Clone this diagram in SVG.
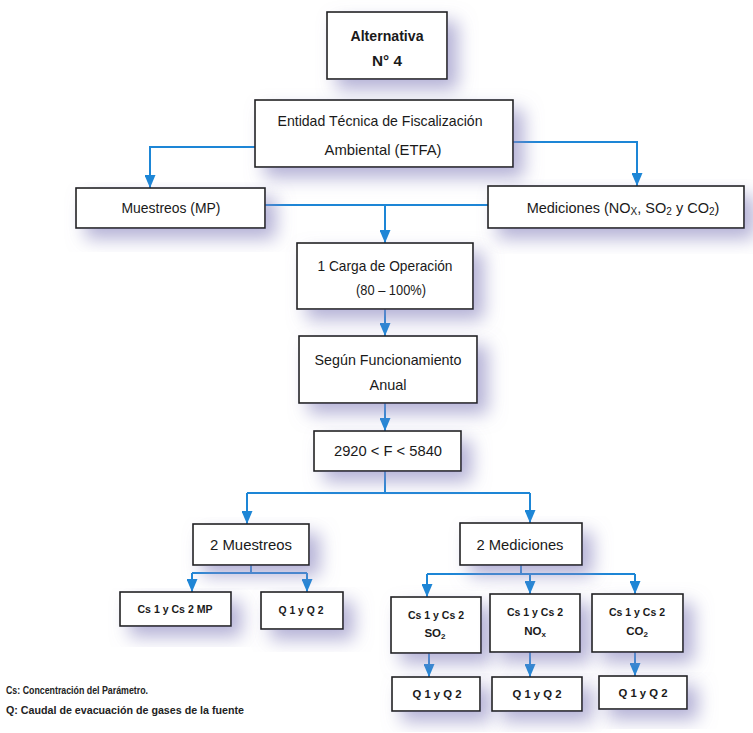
<svg xmlns="http://www.w3.org/2000/svg" width="753" height="733" viewBox="0 0 753 733">
<defs>
<filter id="sh" x="-30%" y="-40%" width="170%" height="200%">
<feGaussianBlur in="SourceAlpha" stdDeviation="9"/>
<feOffset dx="10" dy="10" result="b"/>
<feFlood flood-color="#8c88c0" flood-opacity="0.65"/>
<feComposite in2="b" operator="in"/>
<feMerge><feMergeNode/><feMergeNode in="SourceGraphic"/></feMerge>
</filter>
<marker id="ah" markerUnits="userSpaceOnUse" markerWidth="13" markerHeight="11" refX="13" refY="5.5" orient="auto" viewBox="0 0 13 11">
<path d="M0,0 L13,5.5 L0,11 Z" fill="#1d86d6"/>
</marker>
</defs>
<style>
.box rect{fill:#fff;stroke:#222;stroke-width:1.6;filter:url(#sh)}
.t{font-family:"Liberation Sans",Arial,sans-serif;font-size:14.5px;fill:#1a1a1a;text-anchor:middle}
.b{font-weight:bold}
.s{font-size:11.5px;font-weight:bold}
.sub{font-size:10px;baseline-shift:-2px}
.sub2{font-size:8px;baseline-shift:-2px}
.c path{fill:none;stroke:#1d86d6;stroke-width:2}
.a{marker-end:url(#ah)}
.leg{font-family:"Liberation Sans",Arial,sans-serif;font-size:11px;font-weight:bold;fill:#222}
</style>
<rect width="753" height="733" fill="#fff"/>
<g class="c" id="connectors">
<path class="a" d="M255,147 H150 V188"/>
<path class="a" d="M513,142 H637 V186"/>
<path d="M265,205 H488"/>
<path class="a" d="M385,205 V243"/>
<path class="a" d="M385,309 V336"/>
<path class="a" d="M385,403 V431"/>
<path d="M385,471 V493 M247,493 H530"/>
<path class="a" d="M247,493 V524"/>
<path class="a" d="M530,493 V523"/>
<path d="M251,565 V573 M192,573 H307"/>
<path class="a" d="M192,573 V592"/>
<path class="a" d="M307,573 V592"/>
<path d="M521,565 V574 M427,574 H635"/>
<path class="a" d="M427,574 V597"/>
<path class="a" d="M530,574 V594"/>
<path class="a" d="M635,574 V594"/>
<path class="a" d="M429,653 V677"/>
<path class="a" d="M530,652 V677"/>
<path class="a" d="M635,652 V676"/>
</g>
<g class="box" id="n-alt"><rect x="327" y="12" width="120" height="67"/>
<text class="t b" x="387" y="41" textLength="73" lengthAdjust="spacingAndGlyphs">Alternativa</text><text class="t b" x="387" y="66" textLength="30" lengthAdjust="spacingAndGlyphs">N° 4</text></g>
<g class="box" id="n-etfa"><rect x="255" y="100" width="258" height="67"/>
<text class="t" x="380" y="126" textLength="205" lengthAdjust="spacingAndGlyphs">Entidad Técnica de Fiscalización</text><text class="t" x="383" y="155" textLength="117" lengthAdjust="spacingAndGlyphs">Ambiental (ETFA)</text></g>
<g class="box" id="n-muestreos"><rect x="76" y="188" width="189" height="40"/>
<text class="t" x="171" y="213" textLength="99" lengthAdjust="spacingAndGlyphs">Muestreos (MP)</text></g>
<g class="box" id="n-mediciones"><rect x="488" y="186" width="256" height="42"/>
<text class="t" x="623" y="213" font-size="13.5">Mediciones (NO<tspan class="sub">X</tspan>, SO<tspan class="sub">2</tspan> y CO<tspan class="sub">2</tspan>)</text></g>
<g class="box" id="n-carga"><rect x="297" y="243" width="176" height="66"/>
<text class="t" x="385" y="271" textLength="135" lengthAdjust="spacingAndGlyphs">1 Carga de Operación</text><text class="t" x="391" y="295" textLength="70" lengthAdjust="spacingAndGlyphs">(80 – 100%)</text></g>
<g class="box" id="n-segun"><rect x="299" y="336" width="178" height="67"/>
<text class="t" x="388" y="365" textLength="147" lengthAdjust="spacingAndGlyphs">Según Funcionamiento</text><text class="t" x="388" y="390" textLength="37" lengthAdjust="spacingAndGlyphs">Anual</text></g>
<g class="box" id="n-f"><rect x="314" y="431" width="147" height="40"/>
<text class="t" x="388" y="456" textLength="108" lengthAdjust="spacingAndGlyphs">2920 &lt; F &lt; 5840</text></g>
<g class="box" id="n-2m"><rect x="193" y="524" width="116" height="41"/>
<text class="t" x="251" y="550" textLength="82" lengthAdjust="spacingAndGlyphs">2 Muestreos</text></g>
<g class="box" id="n-csmp"><rect x="120" y="592" width="111" height="34"/>
<text class="t s" x="175" y="613" textLength="75" lengthAdjust="spacingAndGlyphs">Cs 1 y Cs 2 MP</text></g>
<g class="box" id="n-qmp"><rect x="261" y="592" width="82" height="37"/>
<text class="t s" x="301" y="614" textLength="45" lengthAdjust="spacingAndGlyphs">Q 1 y Q 2</text></g>
<g class="box" id="n-2med"><rect x="460" y="523" width="122" height="42"/>
<text class="t" x="520" y="550" textLength="87" lengthAdjust="spacingAndGlyphs">2 Mediciones</text></g>
<g class="box" id="n-so2"><rect x="391" y="597" width="90" height="56"/>
<text class="t s" x="436" y="619" textLength="56" lengthAdjust="spacingAndGlyphs">Cs 1 y Cs 2</text><text class="t s" x="435" y="637">SO<tspan class="sub2">2</tspan></text></g>
<g class="box" id="n-nox"><rect x="490" y="594" width="90" height="58"/>
<text class="t s" x="535" y="616" textLength="56" lengthAdjust="spacingAndGlyphs">Cs 1 y Cs 2</text><text class="t s" x="535" y="635">NO<tspan class="sub2">x</tspan></text></g>
<g class="box" id="n-co2"><rect x="592" y="594" width="91" height="58"/>
<text class="t s" x="637" y="616" textLength="56" lengthAdjust="spacingAndGlyphs">Cs 1 y Cs 2</text><text class="t s" x="637" y="635">CO<tspan class="sub2">2</tspan></text></g>
<g class="box" id="n-q1"><rect x="392" y="677" width="88" height="34"/>
<text class="t s" x="437" y="698" textLength="49" lengthAdjust="spacingAndGlyphs">Q 1 y Q 2</text></g>
<g class="box" id="n-q2"><rect x="492" y="677" width="90" height="34"/>
<text class="t s" x="537" y="698" textLength="49" lengthAdjust="spacingAndGlyphs">Q 1 y Q 2</text></g>
<g class="box" id="n-q3"><rect x="599" y="676" width="88" height="33"/>
<text class="t s" x="643" y="697" textLength="49" lengthAdjust="spacingAndGlyphs">Q 1 y Q 2</text></g>
<g id="legend">
<text class="leg" x="6" y="694" textLength="142" lengthAdjust="spacingAndGlyphs">Cs: Concentración del Parámetro.</text>
<text class="leg" x="6" y="714" textLength="238" lengthAdjust="spacingAndGlyphs">Q: Caudal de evacuación de gases de la fuente</text>
</g>
</svg>
